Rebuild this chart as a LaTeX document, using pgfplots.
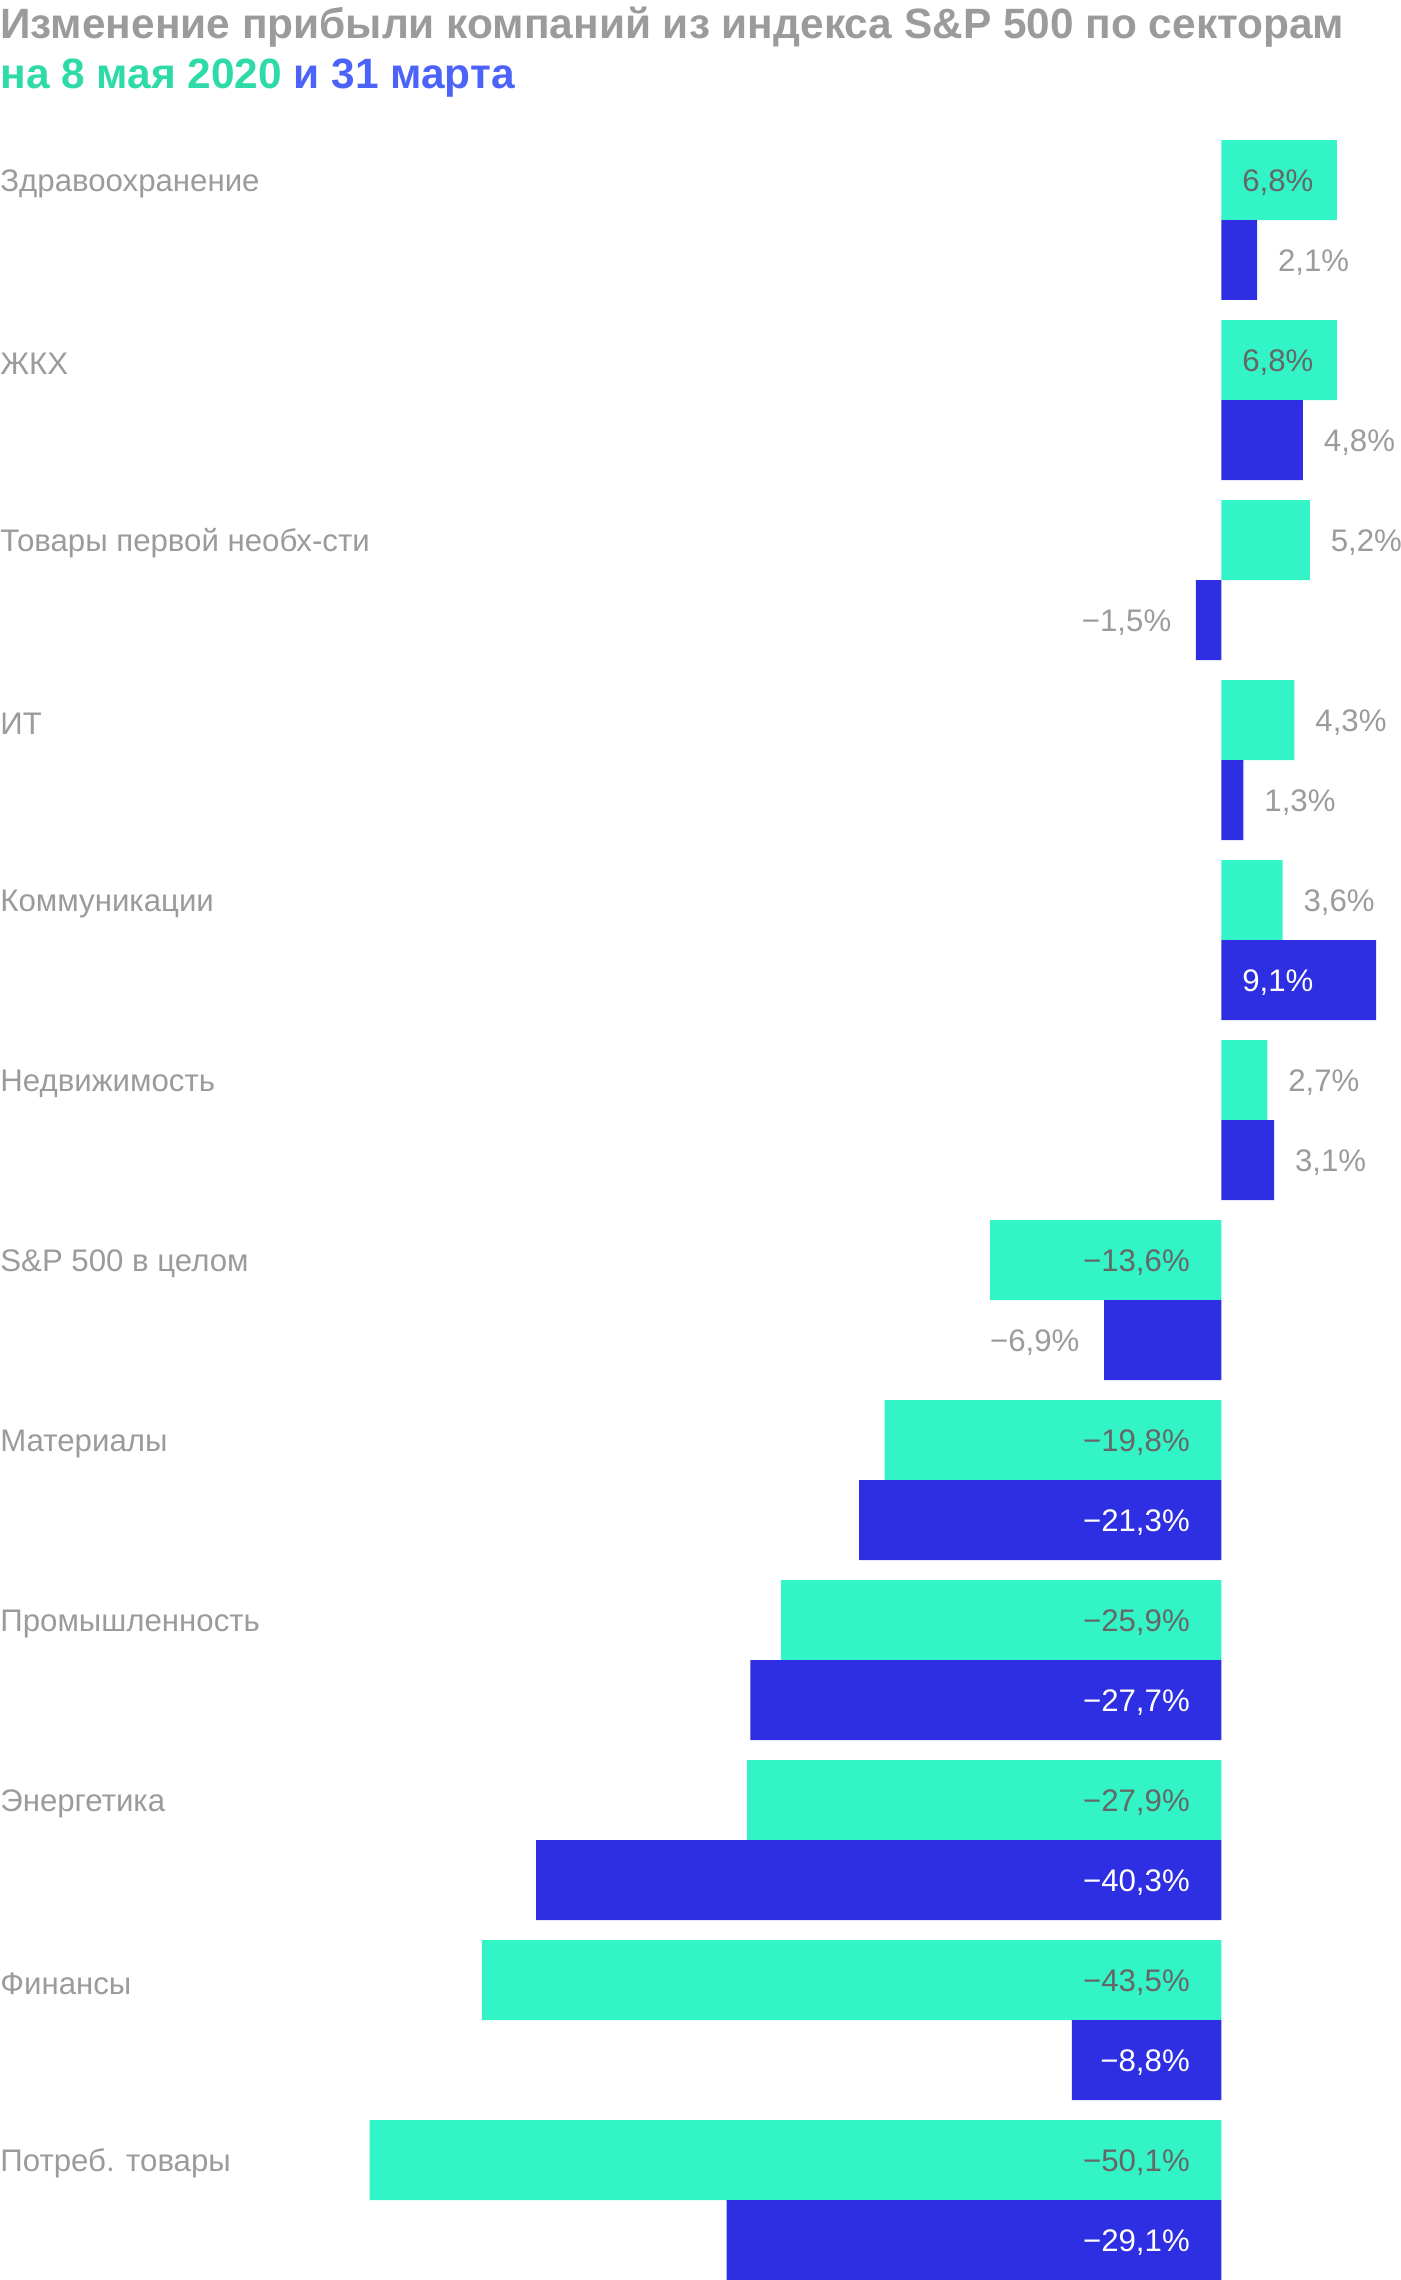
\documentclass[border=0pt]{standalone}
\usepackage{fontspec}
\setmainfont{Liberation Sans}
\usepackage{pgfplots}
\usepackage{pgfplotstable}
\pgfplotsset{compat=1.18}
\definecolor{cgreen}{HTML}{33F4C6}
\definecolor{cblue}{HTML}{2E2EE2}
\definecolor{tgreen}{HTML}{2DDAA8}
\definecolor{tblue}{HTML}{4B63F8}
\definecolor{lgray}{HTML}{9B9B9B}
\definecolor{dgray}{HTML}{666666}

\pgfplotstableread{
i g b mg mb
0 6.8 2.1 0 1
1 6.8 4.8 0 1
2 5.2 -1.5 1 1
3 4.3 1.3 1 1
4 3.6 9.1 1 0
5 2.7 3.1 1 1
6 -13.6 -6.9 0 1
7 -19.8 -21.3 0 0
8 -25.9 -27.7 0 0
9 -27.9 -40.3 0 0
10 -43.5 -8.8 0 0
11 -50.1 -29.1 0 0
}\data

\newif\ifoutside
\newcommand\barlabel[4]{%
  \ifdim#3pt>0.5pt \outsidetrue\else\outsidefalse\fi
  \ifoutside\color{lgray}\else\color{#4}\fi
  \ifdim#1pt<0pt
    \llap{−\pgfmathprintnumber[fixed,fixed zerofill,precision=1,use comma,assume math mode=true]{#2}\%\hspace{\ifoutside 13pt\else 16.5pt\fi}}%
  \else
    \rlap{\hspace{9.8pt}\pgfmathprintnumber[fixed,fixed zerofill,precision=1,use comma,assume math mode=true]{#2}\%}%
  \fi}

\newcommand\lblfont{\fontsize{15.6}{18}\selectfont}

\begin{document}
\begin{tikzpicture}
\begin{axis}[
  scale only axis, width=700pt, height=1140pt,
  xmin=-71.84, xmax=10.51, ymin=-1.2222, ymax=11.4444, y dir=reverse,
  axis line style={draw=none}, tick style={draw=none}, major tick length=0pt,
  xtick=\empty,
  ytick={-0.2222,0.7778,...,10.7778},
  yticklabels={Здравоохранение,ЖКХ,Товары первой необх-сти,ИТ,Коммуникации,Недвижимость,S\&P 500 в целом,Материалы,Промышленность,Энергетика,Финансы,Потреб. товары},
  yticklabel style={anchor=west, inner sep=0pt, text=lgray, font=\lblfont, yshift=-1.8pt},
  clip=false,
]
\addplot[xbar, bar width=0.4444, bar shift=0pt, fill=cgreen, draw=none] table[x=g, y expr=\thisrow{i}-0.2222]{\data};
\addplot[xbar, bar width=0.4444, bar shift=0pt, fill=cblue, draw=none] table[x=b, y expr=\thisrow{i}+0.2222]{\data};

\addplot[draw=none, mark=none,
  visualization depends on={\thisrow{g} \as \myv},
  visualization depends on={abs(\thisrow{g}) \as \mya},
  visualization depends on={\thisrow{mg} \as \mym},
  nodes near coords={\barlabel{\myv}{\mya}{\mym}{dgray}},
  every node near coord/.append style={anchor=west, inner sep=0pt, font=\lblfont, yshift=-1.3pt},
] table[x expr=\thisrow{mg}*\thisrow{g}, y expr=\thisrow{i}-0.2222]{\data};

\addplot[draw=none, mark=none,
  visualization depends on={\thisrow{b} \as \myv},
  visualization depends on={abs(\thisrow{b}) \as \mya},
  visualization depends on={\thisrow{mb} \as \mym},
  nodes near coords={\barlabel{\myv}{\mya}{\mym}{white}},
  every node near coord/.append style={anchor=west, inner sep=0pt, font=\lblfont, yshift=-1.3pt},
] table[x expr=\thisrow{mb}*\thisrow{b}, y expr=\thisrow{i}+0.2222]{\data};

\node[anchor=base west, inner sep=0pt, text=lgray, font=\bfseries\fontsize{21.2}{21}\selectfont]
  at (axis cs:-71.84,-1.0056) {Изменение прибыли компаний из индекса S\&P 500 по секторам};
\node[anchor=base west, inner sep=0pt, font=\bfseries\fontsize{21.2}{21}\selectfont]
  at (axis cs:-71.84,-0.7333) {\textcolor{tgreen}{на 8 мая 2020} \textcolor{tblue}{и 31 марта}};
\end{axis}
\pgfresetboundingbox
\path (current axis.south west) rectangle (current axis.north east);
\end{tikzpicture}
\end{document}
